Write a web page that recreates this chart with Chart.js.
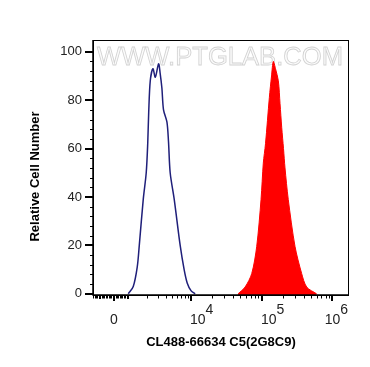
<!DOCTYPE html>
<html>
<head>
<meta charset="utf-8">
<script src="https://cdn.jsdelivr.net/npm/chart.js@4"></script>
<style>
  body { margin: 0; background: #fff; }
  canvas { display: block; }
</style>
</head>
<body>
<canvas id="flowChart" width="370" height="367"></canvas>
<script>
// Histogram positions are in axis units (decades on the biexponential display)
const isotypeX = [3.120, 3.190, 3.246, 3.275, 3.331, 3.373, 3.394, 3.408, 3.430, 3.468, 3.501, 3.547, 3.570, 3.594, 3.617, 3.665, 3.687, 3.711, 3.768, 3.852, 3.908, 3.951, 4.007, 4.063];
const isotypeY = [0, 3, 11, 20, 39, 50, 62, 75, 88, 93, 89.5, 95, 91, 85, 76, 71, 63, 50, 39, 20, 10, 4.5, 1.2, 0];

const stainedX = [4.669, 4.768, 4.862, 4.932, 4.993, 5.025, 5.056, 5.110, 5.141, 5.166, 5.197, 5.237, 5.261, 5.285, 5.310, 5.331, 5.377, 5.472, 5.566, 5.637, 5.777];
const stainedY = [0, 2.8, 8.4, 19.6, 39, 54, 62, 81, 90, 96, 93, 88, 78.5, 68.6, 60, 52, 39, 19.6, 8.4, 2.8, 0];

// Axis labels and tick values (fluorescence intensity)
const xMajorValues = [0, 1e4, 1e5, 1e6];
const xMajorLabels = [['0', ''], ['10', '4'], ['10', '5'], ['10', '6']];
const xLinearTicks = [-1500, -1400, -1300, -1200, -1100, -1000, -900, -800, -700, -600, -500, -400, -300, -200, -100, 100, 200, 300, 400, 500, 600, 700, 800, 900, 1000];
const xLogMultipliers = [2, 3, 4, 5, 6, 7, 8, 9];
const xLogDecades = [1e3, 1e4, 1e5];
const yMajorStep = 20;
const yMinorStep = 4;

const xTitle = 'CL488-66634 C5(2G8C9)';
const yTitle = 'Relative Cell Number';
const watermark = 'WWW.PTGLAB.COM';

const ZERO_POS = 2.92;
const THOUSAND_POS = 3.117;

// map intensity onto the display axis: linear near zero, log above
function axisPos(v) {
  if (v <= 1000) return ZERO_POS + (v / 1000) * (THOUSAND_POS - ZERO_POS);
  if (v < 1e4) return THOUSAND_POS + (4 - THOUSAND_POS) * Math.log10(v / 1000);
  return Math.log10(v);
}

const FONT = "'Liberation Sans', Arial, sans-serif";

const toPoints = (xs, ys) => xs.map((x, i) => ({ x: x, y: ys[i] }));

const watermarkPlugin = {
  id: 'watermark',
  beforeDatasetsDraw(chart) {
    const { ctx, chartArea } = chart;
    ctx.save();
    ctx.font = '25px ' + FONT;
    const w = ctx.measureText(watermark).width;
    const target = chartArea.right - chartArea.left - 10;
    ctx.translate(chartArea.left + 4, chartArea.top + 25);
    ctx.scale(target / w, 1);
    ctx.fillStyle = '#fbfbfb';
    ctx.strokeStyle = '#d2d2d2';
    ctx.lineWidth = 0.8;
    ctx.fillText(watermark, 0, 0);
    ctx.strokeText(watermark, 0, 0);
    ctx.restore();
  }
};

const framePlugin = {
  id: 'frame',
  afterDraw(chart) {
    const { ctx, chartArea: a, scales } = chart;
    const xs = scales.x, ys = scales.y;
    ctx.save();
    ctx.strokeStyle = '#000';
    ctx.lineWidth = 1;
    ctx.strokeRect(a.left + 0.5, a.top + 0.5, a.right - a.left - 1, a.bottom - a.top);
    ctx.lineWidth = 1.5;
    ctx.beginPath();
    ctx.moveTo(a.left, a.top);
    ctx.lineTo(a.left, a.bottom);
    ctx.lineTo(a.right, a.bottom);
    ctx.stroke();

    // y ticks
    for (let v = 0; v <= 100; v += yMinorStep) {
      const y = Math.round(ys.getPixelForValue(v)) + 0.5;
      ctx.beginPath();
      ctx.lineWidth = 1;
      ctx.moveTo(a.left, y);
      ctx.lineTo(a.left - 3, y);
      ctx.stroke();
    }
    for (let v = 0; v <= 100; v += yMajorStep) {
      const y = Math.round(ys.getPixelForValue(v));
      ctx.beginPath();
      ctx.lineWidth = 2;
      ctx.moveTo(a.left, y);
      ctx.lineTo(a.left - 8, y);
      ctx.stroke();
    }

    // x minor ticks
    const minor = xLinearTicks.slice();
    xLogDecades.forEach(d => xLogMultipliers.forEach(m => minor.push(d * m)));
    ctx.lineWidth = 1;
    minor.forEach(v => {
      const x = Math.round(xs.getPixelForValue(axisPos(v))) + 0.5;
      if (x < a.left) return;
      ctx.beginPath();
      ctx.moveTo(x, a.bottom);
      ctx.lineTo(x, a.bottom + 3.5);
      ctx.stroke();
    });
    [-1000, 1000].forEach(v => {
      const x = Math.round(xs.getPixelForValue(axisPos(v)));
      ctx.beginPath();
      ctx.lineWidth = 2;
      ctx.moveTo(x, a.bottom);
      ctx.lineTo(x, a.bottom + 4);
      ctx.stroke();
    });

    // x major ticks and labels
    ctx.fillStyle = '#222';
    ctx.textBaseline = 'alphabetic';
    xMajorValues.forEach((v, i) => {
      const x = Math.round(xs.getPixelForValue(axisPos(v)));
      ctx.beginPath();
      ctx.lineWidth = 2;
      ctx.moveTo(x, a.bottom);
      ctx.lineTo(x, a.bottom + 6);
      ctx.stroke();
      const [base, sup] = xMajorLabels[i];
      ctx.font = '14px ' + FONT;
      const bw = ctx.measureText(base).width;
      const sw = sup ? ctx.measureText(sup).width : 0;
      let start = sup ? x - 1 : x - bw / 2;
      if (start + bw + sw > a.right) start = a.right - bw - sw - 1;
      ctx.textAlign = 'left';
      ctx.fillText(base, start, a.bottom + 29);
      if (sup) ctx.fillText(sup, start + bw, a.bottom + 19);
    });

    // y title
    ctx.translate(35, (a.top + a.bottom) / 2 + 9);
    ctx.rotate(-Math.PI / 2);
    ctx.font = 'bold 13px ' + FONT;
    ctx.fillStyle = '#000';
    ctx.textAlign = 'center';
    ctx.textBaseline = 'middle';
    ctx.fillText(yTitle, 0, 0);
    ctx.restore();
  }
};

new Chart(document.getElementById('flowChart').getContext('2d'), {
  type: 'line',
  data: {
    datasets: [
      {
        label: 'Isotype',
        data: toPoints(isotypeX, isotypeY),
        borderColor: '#1f1f7a',
        borderWidth: 1.5,
        pointRadius: 0,
        fill: false,
        tension: 0.3
      },
      {
        label: 'CL488-66634',
        data: toPoints(stainedX, stainedY),
        borderColor: '#ff0000',
        backgroundColor: '#ff0000',
        borderWidth: 1,
        pointRadius: 0,
        fill: 'start',
        tension: 0.3
      }
    ]
  },
  options: {
    responsive: false,
    animation: false,
    layout: { padding: { top: 40, right: 21, left: 0, bottom: 0 } },
    plugins: { legend: { display: false }, tooltip: { enabled: false } },
    scales: {
      x: {
        type: 'linear',
        min: 2.622,
        max: 6.234,
        grid: { display: false, drawTicks: false },
        border: { display: false },
        ticks: { display: false },
        title: {
          display: true,
          text: xTitle,
          color: '#000',
          font: { family: FONT, size: 13, weight: 'bold' },
          padding: { top: 0, bottom: 17 }
        },
        afterFit: s => { s.height = 72; }
      },
      y: {
        min: -0.5,
        max: 104.85,
        grid: { display: false, drawTicks: true, tickLength: 8 },
        border: { display: false },
        ticks: {
          stepSize: yMajorStep,
          includeBounds: false,
          padding: 3,
          color: '#222',
          font: { family: FONT, size: 13 }
        },
        afterFit: s => { s.width = 93; }
      }
    }
  },
  plugins: [watermarkPlugin, framePlugin]
});
</script>
</body>
</html>
